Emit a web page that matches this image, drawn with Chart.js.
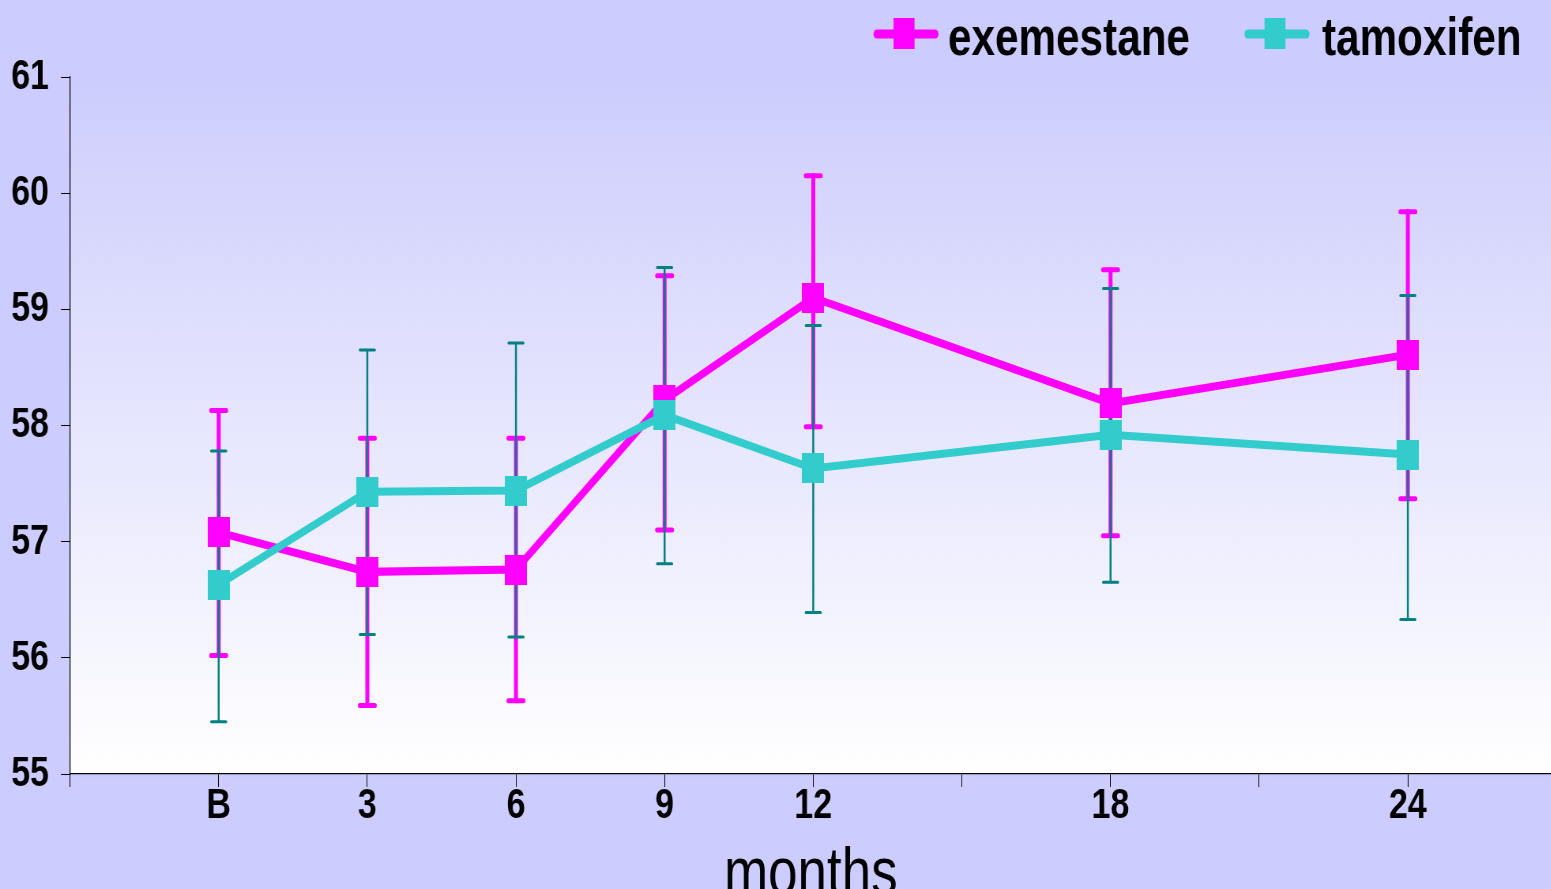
<!DOCTYPE html>
<html>
<head>
<meta charset="utf-8">
<script src="https://cdn.jsdelivr.net/npm/chart.js@4.4.0/dist/chart.umd.min.js"></script>
<style>
  html, body { margin: 0; padding: 0; background: #ccccff; overflow: hidden; }
</style>
</head>
<body>
<!-- drawn wider and squeezed (ratio 1551/1963) so the Arial-metric fonts look like Arial Narrow;
     the canvas runs a few pixels past the window so the x axis reaches the right edge -->
<canvas id="chart" width="1976" height="889" style="display:block;width:1561px;height:889px"></canvas>
<script>
// months after baseline (0 = "B")
const months = [0, 3, 6, 9, 12, 18, 24];

const exemestane = [57.08, 56.74, 56.76, 58.22, 59.1, 58.19, 58.61];
const exemestaneHigh = [58.13, 57.89, 57.89, 59.29, 60.15, 59.34, 59.84];
const exemestaneLow = [56.02, 55.59, 55.63, 57.1, 57.99, 57.05, 57.37];

const tamoxifen = [56.63, 57.43, 57.44, 58.09, 57.63, 57.92, 57.75];
const tamoxifenHigh = [57.78, 58.65, 58.71, 59.36, 58.86, 59.18, 59.12];
const tamoxifenLow = [55.45, 56.2, 56.18, 56.81, 56.39, 56.65, 56.33];

const SX = 1561 / 1976; // horizontal squeeze of the canvas
const FONT = "'Liberation Sans', Arial, sans-serif";
const MAGENTA = "#ff00ff";
const TEAL = "#33cccc";

function marker(color, w, h) {
  const c = document.createElement("canvas");
  c.width = w;
  c.height = h;
  const g = c.getContext("2d");
  g.fillStyle = color;
  g.fillRect(0, 0, w, h);
  return c;
}

function toPoints(values) {
  return values.map((v, i) => ({ x: months[i], y: v }));
}

const background = {
  id: "background",
  beforeDraw(chart) {
    const { ctx, chartArea: a } = chart;
    ctx.save();
    ctx.fillStyle = "#ccccff";
    ctx.fillRect(0, 0, chart.width, chart.height);
    const grad = ctx.createLinearGradient(0, a.top, 0, a.bottom);
    grad.addColorStop(0, "#cdcdfd");
    grad.addColorStop(1, "#ffffff");
    ctx.fillStyle = grad;
    ctx.fillRect(a.left, a.top, a.right - a.left, a.bottom - a.top);
    ctx.restore();
  },
};

const errorBars = {
  id: "errorBars",
  beforeDatasetsDraw(chart) {
    const { ctx, scales } = chart;
    chart.data.datasets.forEach((ds) => {
      ctx.save();
      ctx.strokeStyle = ds.errColor;
      ctx.lineCap = "round";
      ds.errHigh.forEach((hi, i) => {
        const x = scales.x.getPixelForValue(months[i]);
        const yHi = scales.y.getPixelForValue(hi);
        const yLo = scales.y.getPixelForValue(ds.errLow[i]);
        ctx.lineWidth = ds.errWidth;
        ctx.beginPath();
        ctx.moveTo(x, yHi);
        ctx.lineTo(x, yLo);
        ctx.stroke();
        ctx.lineWidth = ds.capThick;
        ctx.beginPath();
        ctx.moveTo(x - ds.capHalf, yHi);
        ctx.lineTo(x + ds.capHalf, yHi);
        ctx.moveTo(x - ds.capHalf, yLo);
        ctx.lineTo(x + ds.capHalf, yLo);
        ctx.stroke();
      });
      ctx.restore();
    });
  },
};

// legend drawn by hand, positions given in on-screen pixels
const legendBox = {
  id: "legendBox",
  afterDraw(chart) {
    const { ctx } = chart;
    const items = [
      { text: "exemestane", color: MAGENTA, x: 873, textX: 948 },
      { text: "tamoxifen", color: TEAL, x: 1244, textX: 1322 },
    ];
    ctx.save();
    items.forEach((it) => {
      const x0 = it.x / SX;
      ctx.strokeStyle = it.color;
      ctx.lineWidth = 9;
      ctx.lineCap = "round";
      ctx.beginPath();
      ctx.moveTo(x0 + 5, 34);
      ctx.lineTo(x0 + 62 / SX, 34);
      ctx.stroke();
      ctx.fillStyle = it.color;
      ctx.fillRect(x0 + 20.5 / SX, 18, 21 / SX, 31);
      ctx.fillStyle = "#000";
      ctx.font = "bold 53.5px " + FONT;
      ctx.textBaseline = "alphabetic";
      ctx.fillText(it.text, it.textX / SX, 55);
    });
    ctx.restore();
  },
};

new Chart(document.getElementById("chart"), {
  type: "line",
  data: {
    datasets: [
      {
        label: "exemestane",
        data: toPoints(exemestane),
        borderColor: MAGENTA,
        backgroundColor: MAGENTA,
        borderWidth: 8,
        pointStyle: marker(MAGENTA, 28, 30),
        order: 1,
        errHigh: exemestaneHigh,
        errLow: exemestaneLow,
        errColor: MAGENTA,
        errWidth: 5,
        capThick: 5,
        capHalf: 9.5,
      },
      {
        label: "tamoxifen",
        data: toPoints(tamoxifen),
        borderColor: TEAL,
        backgroundColor: TEAL,
        borderWidth: 8,
        pointStyle: marker(TEAL, 28, 30),
        order: 0,
        errHigh: tamoxifenHigh,
        errLow: tamoxifenLow,
        errColor: "#008080",
        errWidth: 2.5,
        capThick: 3,
        capHalf: 9.3,
      },
    ],
  },
  options: {
    responsive: false,
    devicePixelRatio: 1,
    animation: false,
    layout: { padding: { top: 77, left: -1, right: 0, bottom: 0 } },
    plugins: {
      legend: { display: false },
      tooltip: { enabled: false },
    },
    scales: {
      x: {
        type: "linear",
        min: -3,
        max: 26.9,
        afterFit: (scale) => {
          scale.paddingLeft = 0;
          scale.paddingRight = 0;
        },
        grid: { drawOnChartArea: false, tickLength: 13, color: "#000" },
        border: { color: "#000", width: 1.2 },
        ticks: {
          stepSize: 3,
          includeBounds: false,
          padding: -7,
          color: "#000",
          font: { family: FONT, size: 43, weight: "bold" },
          callback: (v) => (v === 0 ? "B" : months.includes(v) ? String(v) : ""),
        },
        title: {
          display: true,
          text: "months",
          color: "#000",
          font: { family: FONT, size: 67, lineHeight: 1 },
          padding: { top: 17.4, bottom: -20 },
        },
      },
      y: {
        min: 55,
        max: 61,
        grid: { drawOnChartArea: false, tickLength: 11.4, color: "#000" },
        border: { color: "#000", width: 1.2 },
        ticks: {
          stepSize: 1,
          padding: 15.2,
          color: "#000",
          font: { family: FONT, size: 43, weight: "bold" },
        },
      },
    },
  },
  plugins: [background, errorBars, legendBox],
});
</script>
</body>
</html>
